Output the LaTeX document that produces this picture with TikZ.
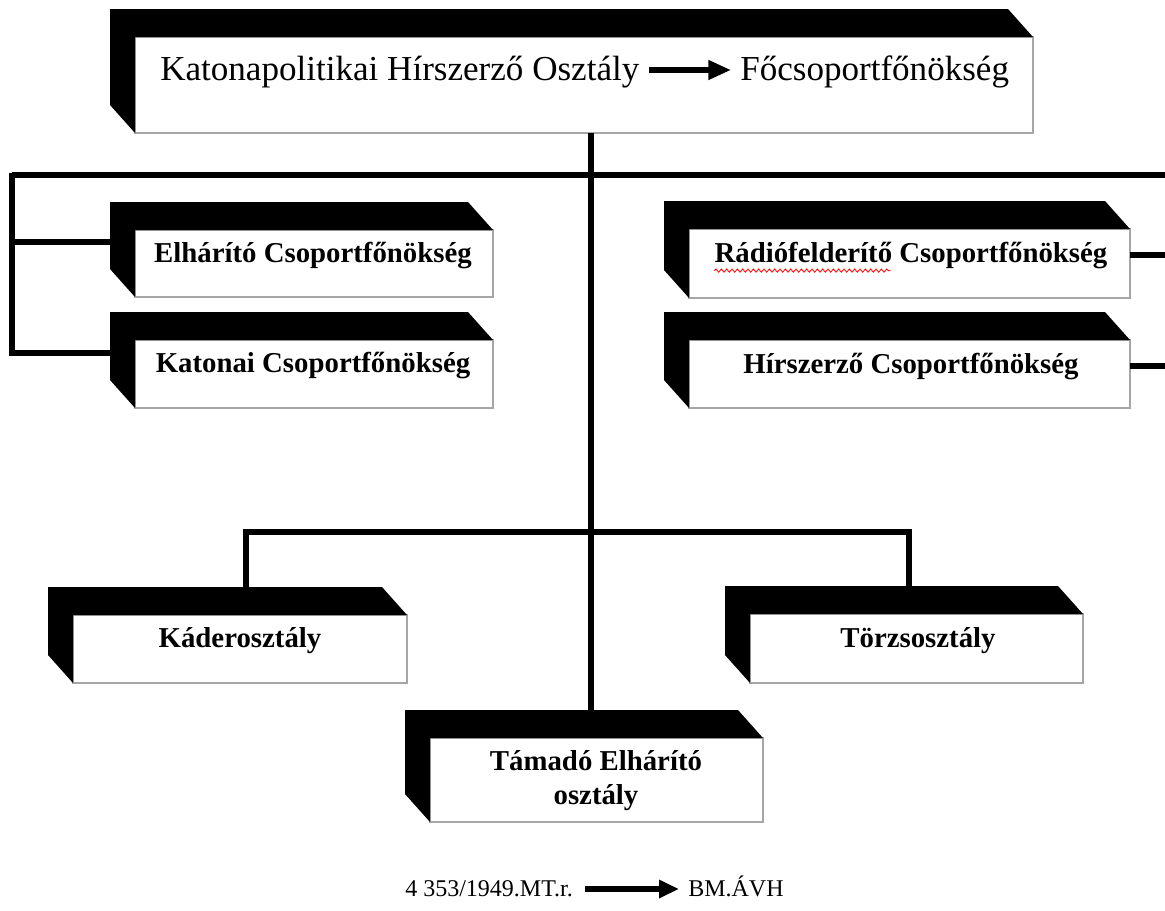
\documentclass[tikz,border=0pt]{standalone}
\usepackage{fontspec}
\setmainfont{Liberation Serif}
\usetikzlibrary{arrows.meta,decorations.pathmorphing,calc}
\newcommand\blackside[1]{%
  \fill[black] (#1.south west) -- ++(-25,-28) -- ($(#1.north west)+(-25,-28)$)
    -- ($(#1.north east)+(-25,-28)$) -- (#1.north east) -- (#1.north west) -- cycle;}
\begin{document}
\begin{tikzpicture}[x=0.75pt,y=-0.75pt,
  orgbox/.style n args={2}{draw=black!35, line width=1.4pt, fill=white, inner sep=0pt, outer sep=0pt,
     minimum width=#1*0.75pt, minimum height=#2*0.75pt},
  lbl/.style={inner sep=0pt, align=center, font=\bfseries\fontsize{21.6}{25.5}\selectfont},
  toptext/.style={inner sep=0pt, font=\fontsize{26.3}{30}\selectfont},
  reftext/.style={inner sep=0pt, font=\fontsize{18}{20}\selectfont},
  conn/.style={line width=3.8pt, line join=miter, line cap=butt},
  bigarrow/.style={line width=4pt, -{Triangle[length=17pt,width=14pt]}},
  smallarrow/.style={line width=4pt, -{Triangle[length=15pt,width=13pt]}}]
\useasboundingbox (0,0) rectangle (1165,911);
\fill[white] (0,0) rectangle (1165,911);

\coordinate (trunk) at (591,175);
\coordinate (barL) at (12,175);
\coordinate (barR) at (1165,175);
\coordinate (lbL) at (246,532);
\coordinate (lbR) at (909,532);

% boxes
\node[orgbox={898}{96}] (top) at (584,85) {};
\blackside{top}
\node[orgbox={358}{67}] (elh) at (314,263.5) {};
\blackside{elh}
\node[orgbox={358}{68}] (kat) at (314,374) {};
\blackside{kat}
\node[orgbox={441}{69}] (rad) at (909.5,263.5) {};
\blackside{rad}
\node[orgbox={441}{68}] (hir) at (909.5,374) {};
\blackside{hir}
\node[orgbox={334}{68}] (kad) at (240,649) {};
\blackside{kad}
\node[orgbox={333}{69}] (tor) at (916.5,648.5) {};
\blackside{tor}
\node[orgbox={333}{84}] (tam) at (596.5,780) {};
\blackside{tam}

% connector lines
\draw[conn] (barL) -- (barR);
\draw[conn] (top.south -| trunk) -- ($(tam.north -| trunk)+(0,-28)$);
\draw[conn] ($(barL)+(0,-1.9)$) -- (barL |- {$(kat.north west)+(0,13)$}) -- ($(kat.north west)+(-25,13)$);
\draw[conn] (barL |- {$(elh.north west)+(0,12)$}) -- ($(elh.north west)+(-25,12)$);
\draw[conn] ($(rad.north east)+(0,26)$) -- ++(36,0);
\draw[conn] ($(hir.north east)+(0,26)$) -- ++(36,0);
\draw[conn] ($(kad.north -| lbL)+(0,-28)$) -- (lbL) -- (lbR) -- ($(tor.north -| lbR)+(0,-28)$);

% texts
\node[toptext, anchor=base west] (t1) at (160,80) {Katonapolitikai Hírszerző Osztály};
\node[toptext, anchor=base west] (t2) at (740,80) {Főcsoportfőnökség};
\draw[bigarrow] ($(t1.base east)+(9,-10)$) -- ($(t2.base west)+(-9,-10)$);

\node[lbl] (elht) at (313,256) {Elhárító Csoportfőnökség};
\node[lbl] (katt) at (313,366) {Katonai Csoportfőnökség};
\node[lbl] (radt) at (911,256) {Rádiófelderítő Csoportfőnökség};
\node[lbl] (hirt) at (911,367) {Hírszerző Csoportfőnökség};
\node[lbl] (kadt) at (240,641) {Káderosztály};
\node[lbl] (tort) at (918,641) {Törzsosztály};
\node[lbl] (tamt) at (596,781) {Támadó Elhárító\\osztály};
\draw[red, line width=0.6pt, decorate, decoration={snake, amplitude=1.2pt, segment length=4pt}]
  ($(radt.south west)+(0,1)$) -- ++(176,0);

\node[reftext, anchor=base west] (ref) at (405,896) {4 353/1949.MT.r.};
\node[reftext, anchor=base west] (avh) at (688,896) {BM.ÁVH};
\draw[smallarrow] ($(ref.base east)+(12,-7)$) -- ($(avh.base west)+(-9,-7)$);
\end{tikzpicture}
\end{document}
